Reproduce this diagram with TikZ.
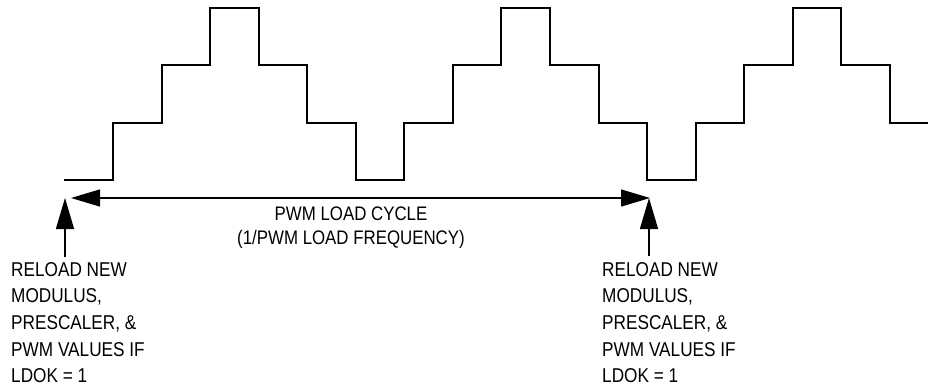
\documentclass[tikz,border=0pt]{standalone}
\usepackage{fontspec}
\newfontfamily\lblfont{Liberation Sans}[FakeStretch=0.86]
\usetikzlibrary{arrows.meta}
\tikzset{
  wave/.style={line width=1.5pt, line join=miter},
  dimline/.style={line width=1.4pt, {Triangle[length=29pt,width=17pt]}-{Triangle[length=29pt,width=17pt]}},
  ptr/.style={line width=1.4pt, -{Triangle[length=31pt,width=18pt]}},
  sidelbl/.style={inner sep=0pt, anchor=north west, align=left, font=\lblfont\fontsize{20}{26.7}\selectfont},
  midlbl/.style={inner sep=0pt, anchor=north, align=center, font=\lblfont\fontsize{19.6}{24}\selectfont}
}
\begin{document}
\begin{tikzpicture}[x=1pt,y=-1pt]
\useasboundingbox (0,0) rectangle (928,389);
\draw[wave] (64,180) -- (113,180) -- (113,123) -- (162,123) -- (162,65) -- (210,65) -- (210,8) -- (259,8) -- (259,65) -- (307,65) -- (307,123) -- (356,123) -- (356,180) -- (404,180) -- (404,123) -- (453,123) -- (453,65) -- (501,65) -- (501,8) -- (550,8) -- (550,65) -- (599,65) -- (599,123) -- (647,123) -- (647,180) -- (696,180) -- (696,123) -- (744,123) -- (744,65) -- (793,65) -- (793,8) -- (841,8) -- (841,65) -- (890,65) -- (890,123) -- (928,123);
\coordinate (lefttip) at (71,198);
\coordinate (righttip) at (650,198);
\coordinate (leftup) at (65,198);
\coordinate (leftbase) at (65,257);
\coordinate (rightup) at (649,198);
\coordinate (rightbase) at (649,256);
\draw[dimline] (lefttip) -- (righttip);
\draw[ptr] (leftbase) -- (leftup);
\draw[ptr] (rightbase) -- (rightup);
\node[midlbl] (cycle) at (351,206.5) {PWM LOAD CYCLE\\(1/PWM LOAD FREQUENCY)};
\node[sidelbl] (reloadL) at (11,262) {RELOAD NEW\\MODULUS,\\PRESCALER, \&\\PWM VALUES IF\\LDOK = 1};
\node[sidelbl] (reloadR) at (602,262) {RELOAD NEW\\MODULUS,\\PRESCALER, \&\\PWM VALUES IF\\LDOK = 1};
\end{tikzpicture}
\end{document}
